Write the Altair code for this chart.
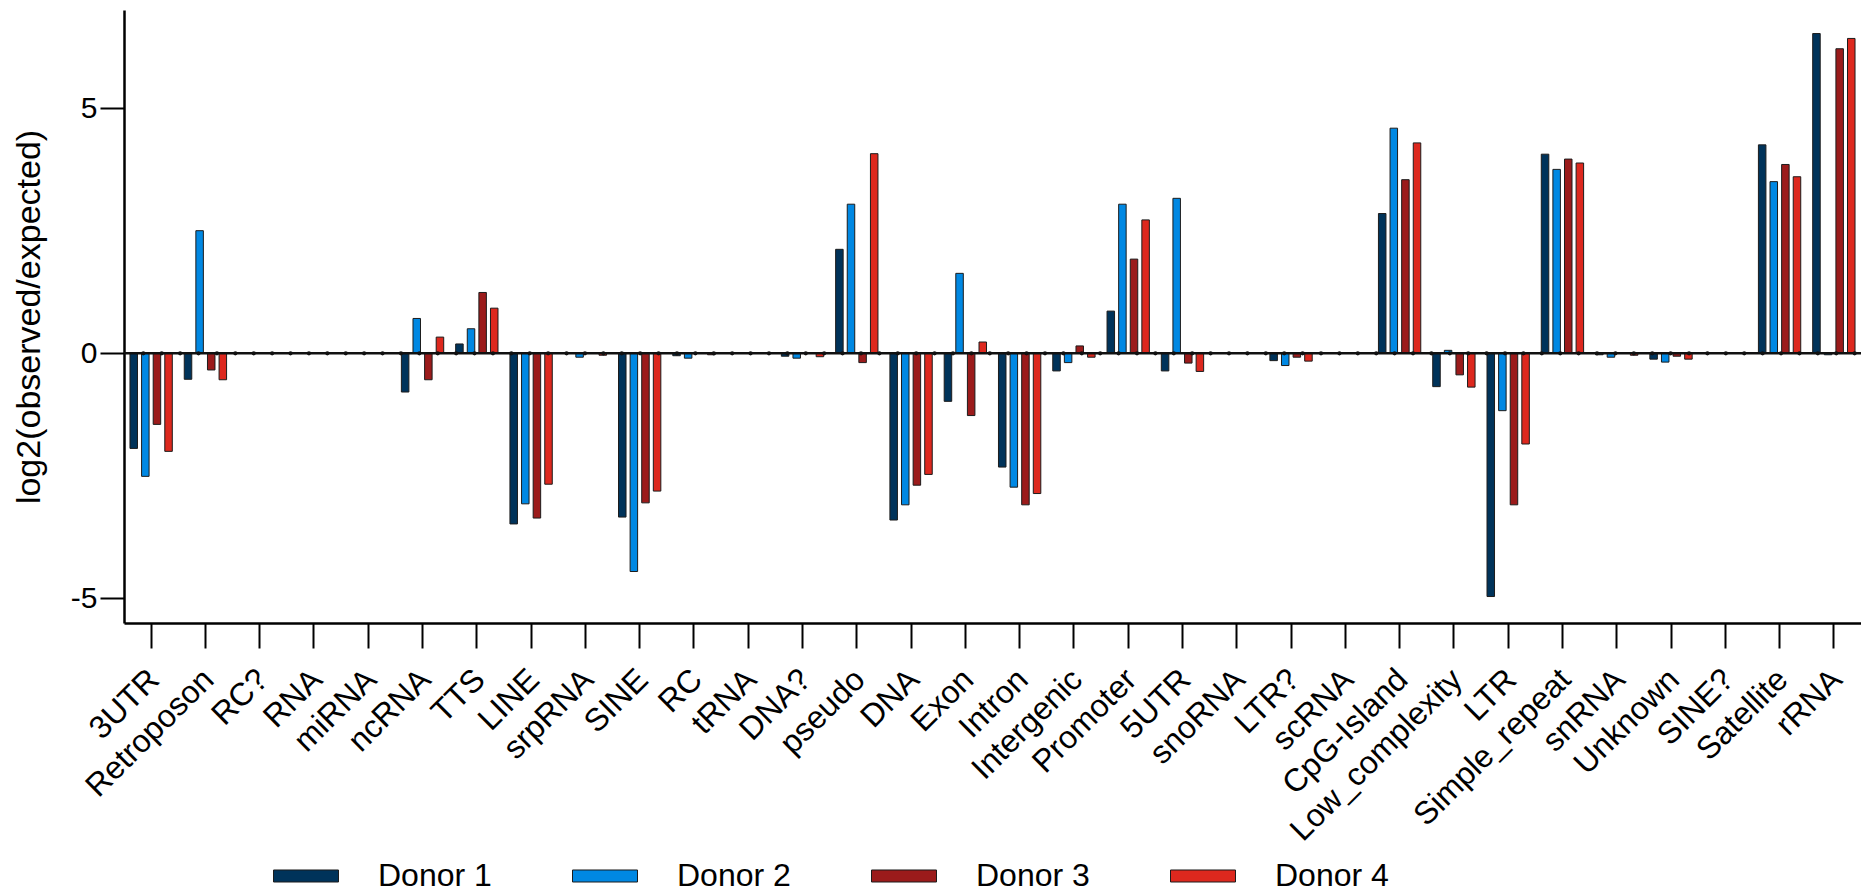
import altair as alt
import pandas as pd

# Genomic feature categories along the x axis
categories = [
    "3UTR", "Retroposon", "RC?", "RNA", "miRNA", "ncRNA", "TTS", "LINE",
    "srpRNA", "SINE", "RC", "tRNA", "DNA?", "pseudo", "DNA", "Exon",
    "Intron", "Intergenic", "Promoter", "5UTR", "snoRNA", "LTR?", "scRNA",
    "CpG-Island", "Low_complexity", "LTR", "Simple_repeat", "snRNA",
    "Unknown", "SINE?", "Satellite", "rRNA",
]

donors = ["Donor 1", "Donor 2", "Donor 3", "Donor 4"]
donor_colors = ["#00335a", "#0088e3", "#9b1b1b", "#dd281e"]

# log2(observed/expected) enrichment per category, one list per donor
donor1 = [-1.94, -0.53, 0, 0, 0, -0.79, 0.19, -3.48, 0, -3.34, -0.05, 0,
          -0.06, 2.12, -3.40, -0.98, -2.32, -0.36, 0.86, -0.36, 0, -0.15, 0,
          2.85, -0.68, -4.96, 4.06, -0.03, -0.12, 0, 4.25, 6.52]
donor2 = [-2.51, 2.50, 0, 0, 0, 0.71, 0.50, -3.07, -0.08, -4.45, -0.10, 0,
          -0.10, 3.04, -3.09, 1.63, -2.73, -0.19, 3.04, 3.16, 0, -0.25, 0,
          4.59, 0.06, -1.17, 3.75, -0.08, -0.18, 0, 3.50, -0.03]
donor3 = [-1.45, -0.34, 0, 0, 0, -0.54, 1.24, -3.36, 0, -3.05, 0, 0,
          0, -0.19, -2.69, -1.27, -3.09, 0.15, 1.92, -0.20, 0, -0.08, 0,
          3.54, -0.44, -3.09, 3.96, 0, -0.06, 0, 3.85, 6.21]
donor4 = [-2.00, -0.54, 0, 0, 0, 0.33, 0.92, -2.67, -0.04, -2.81, -0.03, 0,
          -0.07, 4.07, -2.47, 0.23, -2.86, -0.08, 2.72, -0.37, 0, -0.16, 0,
          4.29, -0.69, -1.85, 3.88, -0.04, -0.12, 0, 3.60, 6.42]

# Baseline marker row (position in category units, count of markers)
marker_start = 0.356
marker_step = 0.339
marker_count = 94

series = [donor1, donor2, donor3, donor4]
rows = []
for donor, values in zip(donors, series):
    for cat, v in zip(categories, values):
        rows.append({"category": cat, "donor": donor, "value": v})
bars_df = pd.DataFrame(rows)

markers_df = pd.DataFrame(
    {"pos": [marker_start + marker_step * k for k in range(marker_count)], "y": 0}
)

FONT = "Liberation Sans"
PLOT_W = 1737
PLOT_H = 613
n_cat = len(categories)

y_scale = alt.Scale(domain=[-5.5, 7], nice=False, zero=False)

bars = alt.Chart(bars_df).mark_bar(stroke="#1c1c1c", strokeWidth=1).encode(
    x=alt.X(
        "category:N",
        sort=categories,
        scale=alt.Scale(paddingInner=0.145, paddingOuter=0.0725),
        axis=alt.Axis(
            title=None,
            labelAngle=-45,
            labelAlign="right",
            labelBaseline="middle",
            labelFontSize=32,
            labelPadding=26,
            labelOffset=3,
            labelLimit=0,
            tickSize=25,
            tickWidth=2,
            domainWidth=2.5,
        ),
    ),
    xOffset=alt.XOffset(
        "donor:N",
        sort=donors,
        scale=alt.Scale(paddingInner=0.353, paddingOuter=0.1765),
    ),
    y=alt.Y(
        "value:Q",
        scale=y_scale,
        axis=alt.Axis(
            title="log2(observed/expected)",
            values=[-5, 0, 5],
            labelExpr="'' + datum.value",
            labelFontSize=30,
            labelPadding=3,
            tickSize=24,
            tickWidth=2,
            domainWidth=2.5,
            titleFontSize=34,
            titleFontWeight="normal",
            titlePadding=24,
            grid=False,
        ),
    ),
    color=alt.Color(
        "donor:N",
        scale=alt.Scale(domain=donors, range=donor_colors),
        legend=alt.Legend(
            title=None,
            orient="none",
            direction="horizontal",
            legendX=149,
            legendY=833,
            symbolType="M-1,-0.185H1V0.185H-1Z",
            symbolSize=4225,
            symbolStrokeColor="#1c1c1c",
            symbolStrokeWidth=1,
            symbolOpacity=1,
            labelFontSize=32,
            labelOffset=39,
            columnPadding=78,
            padding=0,
        ),
    ),
)

zero_line = alt.Chart(pd.DataFrame({"y": [0]})).mark_rule(
    color="#111111", strokeWidth=2.5
).encode(y=alt.Y("y:Q", scale=y_scale))

markers = alt.Chart(markers_df).mark_circle(
    color="#111111", size=18, opacity=1
).encode(
    x=alt.X("pos:Q", scale=alt.Scale(domain=[0, n_cat], nice=False, zero=False), axis=None),
    y=alt.Y("y:Q", scale=y_scale),
)

chart = (
    alt.layer(bars, zero_line, markers)
    .resolve_scale(x="independent")
    .resolve_axis(x="independent")
    .properties(
        width=PLOT_W,
        height=PLOT_H,
        autosize=alt.AutoSizeParams(type="none"),
        padding={"left": 124, "top": 10, "right": 0, "bottom": 270},
    )
    .configure(font=FONT)
    .configure_view(stroke=None)
    .configure_axis(
        domainColor="#000000",
        tickColor="#000000",
        labelColor="#000000",
        titleColor="#000000",
        labelFont=FONT,
        titleFont=FONT,
    )
    .configure_legend(labelFont=FONT, labelColor="#000000")
)

chart.save("out.html", embed_options={"renderer": "svg", "actions": False})
